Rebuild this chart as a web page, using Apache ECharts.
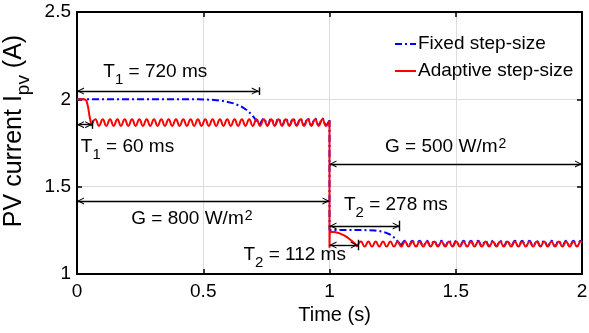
<!DOCTYPE html>
<html>
<head>
<meta charset="utf-8">
<script src="https://cdn.jsdelivr.net/npm/echarts@6/dist/echarts.min.js"></script>
<style>
  html, body { margin: 0; padding: 0; background: #fff; }
  #chart { width: 589px; height: 333px; }
</style>
</head>
<body>
<div id="chart"></div>
<script>
// Axis ranges and tick labels
const xTicks = [0, 0.5, 1, 1.5, 2];
const yTicks = [1, 1.5, 2, 2.5];

// Irradiance steps (W/m^2) and the instant of the step (s)
const irradianceBefore = 800;
const irradianceAfter = 500;
const stepTime = 1.0;

// Settling times (ms) for each controller after each step
const fixedSettle1 = 720;
const adaptiveSettle1 = 60;
const fixedSettle2 = 278;
const adaptiveSettle2 = 112;

// Fixed step-size controller: PV current [time s, current A]
const fixedStart = [[0, 2.0], [0.48, 2.0], [0.53, 1.998], [0.58, 1.99], [0.62, 1.977], [0.65, 1.96],
  [0.672, 1.939], [0.69, 1.915], [0.70, 1.898], [0.711, 1.876], [0.725, 1.853]];
const fixedRipple1 = [[0.725, 1.853], [0.740, 1.89], [0.754, 1.853], [0.769, 1.89], [0.783, 1.853],
  [0.798, 1.89], [0.812, 1.853], [0.827, 1.89], [0.841, 1.853], [0.856, 1.89], [0.870, 1.853],
  [0.885, 1.89], [0.899, 1.853], [0.914, 1.89], [0.928, 1.853], [0.943, 1.89], [0.957, 1.853],
  [0.972, 1.89], [0.986, 1.853], [1.0, 1.882]];
const fixedStep = [[1.0, 1.882], [1.0, 1.252], [1.05, 1.252], [1.1, 1.252], [1.15, 1.251], [1.18, 1.249],
  [1.2, 1.245], [1.22, 1.238], [1.24, 1.226], [1.255, 1.21], [1.265, 1.195], [1.275, 1.178], [1.284, 1.161]];
const fixedRipple2 = [[1.284, 1.161], [1.299, 1.19], [1.313, 1.161], [1.328, 1.19], [1.342, 1.161],
  [1.357, 1.19], [1.371, 1.161], [1.386, 1.19], [1.400, 1.161], [1.415, 1.19], [1.429, 1.161],
  [1.444, 1.19], [1.458, 1.161], [1.473, 1.19], [1.487, 1.161], [1.502, 1.19], [1.516, 1.161],
  [1.531, 1.19], [1.545, 1.161], [1.560, 1.19], [1.574, 1.161], [1.589, 1.19], [1.603, 1.161],
  [1.618, 1.19], [1.632, 1.161], [1.647, 1.19], [1.661, 1.161], [1.676, 1.19], [1.690, 1.161],
  [1.705, 1.19], [1.719, 1.161], [1.734, 1.19], [1.748, 1.161], [1.763, 1.19], [1.777, 1.161],
  [1.792, 1.19], [1.806, 1.161], [1.821, 1.19], [1.835, 1.161], [1.850, 1.19], [1.864, 1.161],
  [1.879, 1.19], [1.893, 1.161], [1.908, 1.19], [1.922, 1.161], [1.937, 1.19], [1.951, 1.161],
  [1.966, 1.19], [1.980, 1.161], [1.995, 1.19], [2.0, 1.184]];

// Adaptive step-size controller: PV current [time s, current A]
const adaptiveStart = [[0, 2.0], [0.03, 2.0], [0.038, 1.99], [0.044, 1.955], [0.05, 1.9], [0.055, 1.865], [0.058, 1.848]];
const adaptiveRipple1 = [[0.058, 1.848], [0.073, 1.886], [0.087, 1.848], [0.102, 1.886], [0.116, 1.848],
  [0.131, 1.886], [0.145, 1.848], [0.160, 1.886], [0.174, 1.848], [0.189, 1.886], [0.203, 1.848],
  [0.218, 1.886], [0.232, 1.848], [0.247, 1.886], [0.261, 1.848], [0.276, 1.886], [0.290, 1.848],
  [0.305, 1.886], [0.319, 1.848], [0.334, 1.886], [0.348, 1.848], [0.363, 1.886], [0.377, 1.848],
  [0.392, 1.886], [0.406, 1.848], [0.421, 1.886], [0.435, 1.848], [0.450, 1.886], [0.464, 1.848],
  [0.479, 1.886], [0.493, 1.848], [0.508, 1.886], [0.522, 1.848], [0.537, 1.886], [0.551, 1.848],
  [0.566, 1.886], [0.580, 1.848], [0.595, 1.886], [0.609, 1.848], [0.624, 1.886], [0.638, 1.848],
  [0.653, 1.886], [0.667, 1.848], [0.682, 1.886], [0.696, 1.848], [0.711, 1.886], [0.725, 1.848],
  [0.740, 1.886], [0.754, 1.848], [0.769, 1.886], [0.783, 1.848], [0.798, 1.886], [0.812, 1.848],
  [0.827, 1.886], [0.841, 1.848], [0.856, 1.886], [0.870, 1.848], [0.885, 1.886], [0.899, 1.848],
  [0.914, 1.886], [0.928, 1.848], [0.943, 1.886], [0.957, 1.848], [0.972, 1.886], [0.986, 1.848],
  [1.0, 1.878]];
const adaptiveStep = [[1.0, 1.878], [1.0, 1.15], [1.001, 1.242], [1.02, 1.240], [1.04, 1.233], [1.06, 1.22],
  [1.075, 1.205], [1.09, 1.188], [1.1, 1.175], [1.11, 1.157]];
const adaptiveRipple2 = [[1.110, 1.157], [1.125, 1.186], [1.139, 1.157], [1.154, 1.186], [1.168, 1.157],
  [1.183, 1.186], [1.197, 1.157], [1.212, 1.186], [1.226, 1.157], [1.241, 1.186], [1.255, 1.157],
  [1.270, 1.186], [1.284, 1.157], [1.299, 1.186], [1.313, 1.157], [1.328, 1.186], [1.342, 1.157],
  [1.357, 1.186], [1.371, 1.157], [1.386, 1.186], [1.400, 1.157], [1.415, 1.186], [1.429, 1.157],
  [1.444, 1.186], [1.458, 1.157], [1.473, 1.186], [1.487, 1.157], [1.502, 1.186], [1.516, 1.157],
  [1.531, 1.186], [1.545, 1.157], [1.560, 1.186], [1.574, 1.157], [1.589, 1.186], [1.603, 1.157],
  [1.618, 1.186], [1.632, 1.157], [1.647, 1.186], [1.661, 1.157], [1.676, 1.186], [1.690, 1.157],
  [1.705, 1.186], [1.719, 1.157], [1.734, 1.186], [1.748, 1.157], [1.763, 1.186], [1.777, 1.157],
  [1.792, 1.186], [1.806, 1.157], [1.821, 1.186], [1.835, 1.157], [1.850, 1.186], [1.864, 1.157],
  [1.879, 1.186], [1.893, 1.157], [1.908, 1.186], [1.922, 1.157], [1.937, 1.186], [1.951, 1.157],
  [1.966, 1.186], [1.980, 1.157], [1.995, 1.186], [2.0, 1.18]];

const FONT = "'Liberation Sans', Arial, sans-serif";
const BLUE = '#0000ff';
const RED = '#ff0000';
const FIXED = 'Fixed step-size';
const ADAPTIVE = 'Adaptive step-size';

// Open arrow head whose tip sits at the symbol centre
const ARROW = 'path://M5,0 L10,9 L8.4,9 L5,2.9 L1.6,9 L0,9 Z M5,-9 L5,-9';

// Dimension lines: horizontal double arrows, some closed by a short end bar
const spans = [
  { x0: 0, x1: fixedSettle1 / 1000, y: 2.047, bar: 0.022 },
  { x0: 0, x1: adaptiveSettle1 / 1000, y: 1.855, bar: 0.024 },
  { x0: 0, x1: stepTime, y: 1.418, bar: 0 },
  { x0: stepTime, x1: 2, y: 1.63, bar: 0 },
  { x0: stepTime, x1: stepTime + fixedSettle2 / 1000, y: 1.275, bar: 0.03 },
  { x0: stepTime, x1: stepTime + adaptiveSettle2 / 1000, y: 1.166, bar: 0.03 }
];

const notes = [
  { text: '{m|T}{s|1}{m| = ' + fixedSettle1 + ' ms}', at: [0.31, 2.16] },
  { text: '{m|T}{s|1}{m| = ' + adaptiveSettle1 + ' ms}', at: [0.2, 1.73] },
  { text: '{mb|G = ' + irradianceBefore + ' W/m}{sup|2}', at: [0.455, 1.315] },
  { text: '{mb|G = ' + irradianceAfter + ' W/m}{sup|2}', at: [1.46, 1.73] },
  { text: '{m|T}{s|2}{m| = ' + fixedSettle2 + ' ms}', at: [1.263, 1.398] },
  { text: '{m|T}{s|2}{m| = ' + adaptiveSettle2 + ' ms}', at: [0.862, 1.11] }
];

const annotationRich = {
  m: { fontFamily: FONT, fontSize: 19, color: '#000', verticalAlign: 'top', lineHeight: 19 },
  s: { fontFamily: FONT, fontSize: 15, color: '#000', verticalAlign: 'top', lineHeight: 15, padding: [10, 0, 0, 0] },
  mb: { fontFamily: FONT, fontSize: 19, color: '#000', verticalAlign: 'bottom', lineHeight: 19 },
  sup: { fontFamily: FONT, fontSize: 14, color: '#000', verticalAlign: 'top', lineHeight: 14, padding: [0, 0, 14, 1] }
};

const markLines = [];
spans.forEach(function (sp) {
  markLines.push([{ coord: [sp.x0, sp.y], symbol: ARROW }, { coord: [sp.x1, sp.y], symbol: ARROW }]);
  if (sp.bar) {
    markLines.push([{ coord: [sp.x1, sp.y - sp.bar], symbol: 'none' }, { coord: [sp.x1, sp.y + sp.bar], symbol: 'none' }]);
  }
});

function trace(name, data, color, smooth, dashed) {
  return {
    name: name,
    type: 'line',
    data: data,
    smooth: smooth ? 0.5 : false,
    symbol: 'none',
    showSymbol: false,
    color: color,
    lineStyle: { color: color, width: 2, type: dashed ? [7, 3, 2, 3] : 'solid' },
    z: dashed ? 2 : 3
  };
}

const series = [
  trace(FIXED, fixedStart, BLUE, false, true),
  trace(FIXED, fixedRipple1, BLUE, true, true),
  trace(FIXED, fixedStep, BLUE, false, true),
  trace(FIXED, fixedRipple2, BLUE, true, true),
  trace(ADAPTIVE, adaptiveStart, RED, false, false),
  trace(ADAPTIVE, adaptiveRipple1, RED, true, false),
  trace(ADAPTIVE, adaptiveStep, RED, false, false),
  trace(ADAPTIVE, adaptiveRipple2, RED, true, false)
];

// Annotation layer: arrows and captions in data coordinates
series.push({
  type: 'line',
  data: [],
  silent: true,
  z: 5,
  markLine: {
    silent: true,
    animation: false,
    symbolSize: [7, 14],
    label: { show: false },
    lineStyle: { color: '#000', width: 1.4, type: 'solid' },
    emphasis: { disabled: true },
    data: markLines
  },
  markPoint: {
    silent: true,
    animation: false,
    symbol: 'circle',
    symbolSize: 1,
    itemStyle: { color: 'rgba(0,0,0,0)' },
    label: { show: true, position: 'inside', rich: annotationRich },
    data: notes.map(function (n) {
      return { coord: n.at, label: { formatter: n.text } };
    })
  }
});

const axisCommon = {
  type: 'value',
  axisLine: { show: true, onZero: false, lineStyle: { color: '#000', width: 2 } },
  axisTick: { show: true, inside: true, length: 5, lineStyle: { color: '#000', width: 1.5 } }
};

const chart = echarts.init(document.getElementById('chart'), null, { renderer: 'canvas' });
chart.setOption({
  animation: false,
  backgroundColor: '#fff',
  grid: { left: 77, right: 7, top: 12, bottom: 59, containLabel: false, outerBoundsMode: 'none' },
  legend: {
    data: [FIXED, ADAPTIVE],
    orient: 'vertical',
    left: 389,
    top: 28,
    itemWidth: 21,
    itemHeight: 12,
    itemGap: 5,
    itemStyle: { opacity: 0 },
    textStyle: { fontFamily: FONT, fontSize: 19, color: '#000', lineHeight: 22, padding: [0, 0, 0, -3] },
    selectedMode: false
  },
  xAxis: [
    Object.assign({}, axisCommon, {
      min: xTicks[0], max: xTicks[xTicks.length - 1], interval: xTicks[1] - xTicks[0],
      name: 'Time (s)', nameLocation: 'middle', nameGap: 28,
      nameTextStyle: { fontFamily: FONT, fontSize: 20, color: '#000', padding: [0, 0, 0, 10] },
      axisLabel: { color: '#000', fontFamily: FONT, fontSize: 19, margin: 8 },
      splitLine: { show: true, lineStyle: { color: '#dcdcdc', width: 1 } }
    }),
    Object.assign({}, axisCommon, {
      position: 'top',
      min: xTicks[0], max: xTicks[xTicks.length - 1], interval: xTicks[1] - xTicks[0],
      axisLabel: { show: false },
      splitLine: { show: false }
    })
  ],
  yAxis: [
    Object.assign({}, axisCommon, {
      min: yTicks[0], max: yTicks[yTicks.length - 1], interval: yTicks[1] - yTicks[0],
      name: '{a|PV current I}{p|pv}{a| (A)}', nameLocation: 'middle', nameGap: 38,
      nameTextStyle: {
        padding: [0, 0, 0, 24],
        rich: {
          a: { fontFamily: FONT, fontSize: 25, color: '#000', verticalAlign: 'top', lineHeight: 25 },
          p: { fontFamily: FONT, fontSize: 19, color: '#000', verticalAlign: 'top', lineHeight: 19, padding: [13, 0, 0, 0] }
        }
      },
      axisLabel: { color: '#000', fontFamily: FONT, fontSize: 19, margin: 6 },
      splitLine: { show: true, lineStyle: { color: '#dcdcdc', width: 1 } }
    }),
    Object.assign({}, axisCommon, {
      position: 'right',
      min: yTicks[0], max: yTicks[yTicks.length - 1], interval: yTicks[1] - yTicks[0],
      axisLabel: { show: false },
      splitLine: { show: false }
    })
  ],
  series: series
});
</script>
</body>
</html>
